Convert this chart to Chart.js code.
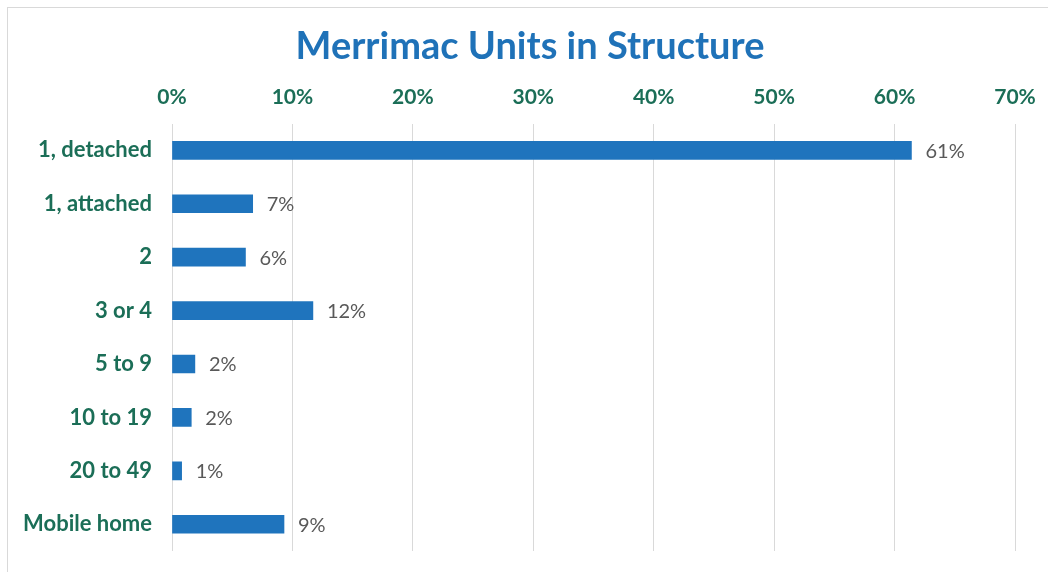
<!DOCTYPE html>
<html>
<head>
<meta charset="utf-8">
<script src="https://cdn.jsdelivr.net/npm/chart.js@4/dist/chart.umd.min.js"></script>
<style>
  html, body { margin: 0; padding: 0; background: #fff; }
  #wrap { position: relative; width: 1048px; height: 572px; }
  #frame { position: absolute; left: 7px; top: 7px; width: 1045px; height: 570px; border: 1px solid #d9d9d9; box-sizing: border-box; pointer-events: none; }
  canvas { position: absolute; left: 0; top: 0; }
</style>
</head>
<body>
<div id="wrap">
  <canvas id="c" width="1048" height="572"></canvas>
  <div id="frame"></div>
</div>
<script>
const categories = ["1, detached", "1, attached", "2", "3 or 4", "5 to 9", "10 to 19", "20 to 49", "Mobile home"];
const shares = [61.4, 6.7, 6.1, 11.7, 1.9, 1.6, 0.8, 9.3];
const shareLabels = ["61%", "7%", "6%", "12%", "2%", "2%", "1%", "9%"];
const tickValues = [0, 10, 20, 30, 40, 50, 60, 70];

const valueLabelPlugin = {
  id: 'valueLabels',
  afterLayout(chart) {
    const t = chart.titleBlock;
    if (t) { t.left = 45; t.right = 1015; }
  },
  afterDatasetsDraw(chart) {
    const ctx = chart.ctx;
    const meta = chart.getDatasetMeta(0);
    ctx.save();
    ctx.font = '20px Lato';
    ctx.fillStyle = '#595959';
    ctx.textAlign = 'left';
    ctx.textBaseline = 'middle';
    meta.data.forEach((bar, i) => {
      ctx.fillText(shareLabels[i], bar.x + 14, bar.y + 1);
    });
    ctx.restore();
  }
};

function zeroPad(scale) {
  scale.paddingTop = 0; scale.paddingBottom = 0;
  scale.paddingLeft = 0; scale.paddingRight = 0;
}

new Chart(document.getElementById('c'), {
  type: 'bar',
  data: {
    labels: categories,
    datasets: [{
      data: shares,
      backgroundColor: '#1f74bd',
      barThickness: 18
    }]
  },
  options: {
    indexAxis: 'y',
    responsive: false,
    animation: false,
    layout: { padding: { left: 0, right: 33, top: 0, bottom: 21 } },
    plugins: {
      legend: { display: false },
      tooltip: { enabled: false },
      title: {
        display: true,
        text: 'Merrimac Units in Structure',
        color: '#1f72b8',
        font: { family: 'Lato', size: 38, weight: 'bold' },
        padding: { top: 24, bottom: 8 }
      }
    },
    scales: {
      x: {
        position: 'top',
        min: 0,
        max: 70,
        afterBuildTicks(scale) { scale.ticks = tickValues.map(v => ({ value: v })); },
        afterFit(scale) { scale.height = 46; zeroPad(scale); },
        ticks: {
          callback: v => v + '%',
          color: '#1b6e57',
          font: { family: 'Lato', size: 21, weight: 'bold' },
          padding: 14,
          maxRotation: 0
        },
        grid: { color: '#d9d9d9', drawTicks: false, lineWidth: 1 },
        border: { display: false }
      },
      y: {
        afterFit(scale) { scale.width = 172; zeroPad(scale); },
        ticks: {
          color: '#1b6e57',
          font: { family: 'Lato', size: 22, weight: 'bold' },
          padding: 20
        },
        grid: { display: false, drawTicks: false },
        border: { display: false }
      }
    }
  },
  plugins: [valueLabelPlugin]
});
</script>
</body>
</html>
